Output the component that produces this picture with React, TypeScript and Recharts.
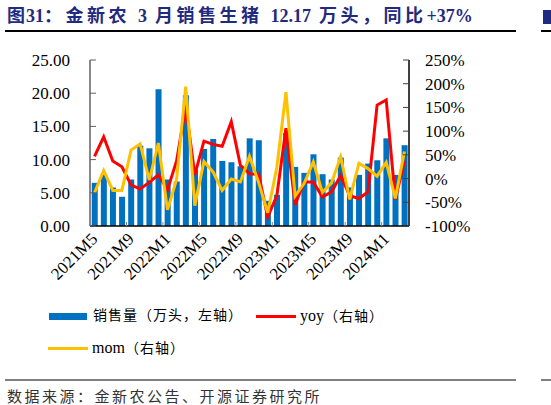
import React from "react";
import { ComposedChart, Bar, Line, XAxis, YAxis } from "recharts";

const months = [
  "2021M5","2021M6","2021M7","2021M8","2021M9","2021M10","2021M11","2021M12",
  "2022M1","2022M2","2022M3","2022M4","2022M5","2022M6","2022M7","2022M8",
  "2022M9","2022M10","2022M11","2022M12","2023M1","2023M2","2023M3","2023M4",
  "2023M5","2023M6","2023M7","2023M8","2023M9","2023M10","2023M11","2023M12",
  "2024M1","2024M2","2024M3",
];
const sales = [
  6.5, 7.7, 5.8, 4.4, 7.0, 12.1, 11.7, 20.6, 7.0, 6.7, 19.7, 8.5,
  11.6, 13.1, 9.8, 9.6, 9.0, 13.2, 12.9, 3.8, 4.7, 14.0, 8.9, 8.0,
  10.8, 7.8, 7.0, 10.3, 5.8, 7.7, 9.4, 9.9, 13.2, 7.7, 12.17,
];
const yoy = [
  47, 88, 37, 25, -13, -22, -8, 8, -24, 37, 152, 8,
  79, 72, 68, 120, 28, 10, 9, -81, -36, 106, -55, -7,
  -7, -39, -28, 6, -36, -42, -28, 155, 166, -44, 37,
];
const mom = [
  -30, 17, -25, -25, 60, 73, -3, 75, -66, -2, 194, -57,
  36, 14, -25, -1, -7, 47, -8, -72, 24, 182, -37, -10,
  35, -29, -9, 46, -44, 32, 21, 5, 34, -42, 57,
];
const leftTicks = [0, 5, 10, 15, 20, 25];
const rightTicks = [-100, -50, 0, 50, 100, 150, 200, 250];

const data = months.map((m, i) => ({ month: m, sales: sales[i], yoy: yoy[i], mom: mom[i] }));

const SERIF = '"Liberation Serif", "Times New Roman", serif';
const CJK = '"Liberation Serif", "Noto Sans CJK SC", serif';
const BAND = (551 - 90 - 142) / 35;

const XTick = (props: any) => {
  const { x, y, payload, index } = props;
  return (
    <g>
      {index > 0 && (
        <line x1={x - BAND / 2} x2={x - BAND / 2} y1={y} y2={y - 4} stroke="#808080" strokeWidth={1} />
      )}
      <text
        x={x + 4}
        y={y + 14}
        transform={`rotate(-45 ${x + 4} ${y + 14})`}
        textAnchor="end"
        fontFamily={SERIF}
        fontSize={17}
        fill="#000"
      >
        {payload.value}
      </text>
    </g>
  );
};

const abs = (l: number, t: number): React.CSSProperties => ({ position: "absolute", left: l, top: t });

export default function App() {
  return (
    <div style={{ position: "absolute", left: 0, top: 0, width: 551, height: 405, overflow: "hidden", background: "#fff" }}>
      <div style={{ ...abs(7, 3), fontFamily: CJK, fontWeight: 700, fontSize: 18, lineHeight: "26px", color: "#1F2A80", whiteSpace: "nowrap" }}>
        <span style={{ letterSpacing: 1 }}>图</span>
        <span>31</span>
        <span style={{ letterSpacing: 3.5 }}>：金新农 </span>
        <span>3</span>
        <span style={{ letterSpacing: 3.5 }}> 月销售生猪 </span>
        <span>12.17</span>
        <span style={{ letterSpacing: 3.5 }}> 万头，同比</span>
        <span>+37%</span>
      </div>
      <div style={{ ...abs(543, 10), width: 8, height: 14, background: "#1F2A80" }} />
      <div style={{ ...abs(5, 30), width: 511, height: 1.5, background: "#000" }} />
      <div style={{ ...abs(541, 30), width: 20, height: 1.5, background: "#000" }} />

      <div style={abs(0, 0)}>
        <ComposedChart width={551} height={300} data={data} margin={{ top: 60, right: 82, left: 0, bottom: 4 }} barCategoryGap="19%">
          <XAxis
            dataKey="month"
            xAxisId={0}
            interval={3}
            tickLine={false}
            tickSize={0}
            tickMargin={0}
            height={70}
            axisLine={{ stroke: "#000", strokeWidth: 1.5 }}
            tick={<XTick />}
          />
          <YAxis
            yAxisId="left"
            orientation="left"
            width={90}
            domain={[0, 25]}
            ticks={leftTicks}
            interval={0}
            tickFormatter={(v: number) => v.toFixed(2)}
            tickSize={-6}
            tickMargin={26}
            axisLine={{ stroke: "#606060", strokeWidth: 1.5 }}
            tickLine={{ stroke: "#606060" }}
            tick={{ fontFamily: SERIF, fontSize: 17, fill: "#000" }}
          />
          <YAxis
            yAxisId="right"
            orientation="right"
            width={60}
            domain={[-100, 250]}
            ticks={rightTicks}
            interval={0}
            tickFormatter={(v: number) => `${v}%`}
            tickSize={-6}
            tickMargin={22}
            axisLine={{ stroke: "#000", strokeWidth: 1.5 }}
            tickLine={{ stroke: "#404040" }}
            tick={{ fontFamily: SERIF, fontSize: 17, fill: "#000", textAnchor: "start" }}
          />
          <Bar yAxisId="left" dataKey="sales" fill="#0070C0" isAnimationActive={false} />
          <Line yAxisId="right" dataKey="yoy" stroke="#FF0000" strokeWidth={3} dot={false} type="linear" isAnimationActive={false} />
          <Line yAxisId="right" dataKey="mom" stroke="#FFC000" strokeWidth={3} dot={false} type="linear" isAnimationActive={false} />
        </ComposedChart>
      </div>

      <div style={{ ...abs(49, 313), width: 38, height: 7, background: "#0070C0" }} />
      <div style={{ ...abs(93, 306), fontFamily: CJK, fontSize: 14, lineHeight: "20px", letterSpacing: 1, color: "#000", whiteSpace: "nowrap" }}>
        销售量（万头，左轴）
      </div>
      <div style={{ ...abs(256, 315), width: 40, height: 3, background: "#FF0000" }} />
      <div style={{ ...abs(300, 306), fontFamily: CJK, fontSize: 14, lineHeight: "20px", color: "#000", whiteSpace: "nowrap" }}>
        <span style={{ fontSize: 16 }}>yoy</span>
        <span style={{ letterSpacing: 1 }}>（右轴）</span>
      </div>
      <div style={{ ...abs(48, 347), width: 40, height: 3, background: "#FFC000" }} />
      <div style={{ ...abs(92, 338), fontFamily: CJK, fontSize: 14, lineHeight: "20px", color: "#000", whiteSpace: "nowrap" }}>
        <span style={{ fontSize: 16 }}>mom</span>
        <span style={{ letterSpacing: 1 }}>（右轴）</span>
      </div>

      <div style={{ ...abs(5, 379), width: 511, height: 2, background: "#808080" }} />
      <div style={{ ...abs(541, 379), width: 20, height: 2, background: "#808080" }} />
      <div style={{ ...abs(7, 386), fontFamily: CJK, fontSize: 15, lineHeight: "22px", letterSpacing: 2.5, color: "#333", whiteSpace: "nowrap" }}>
        数据来源：金新农公告、开源证券研究所
      </div>
    </div>
  );
}
